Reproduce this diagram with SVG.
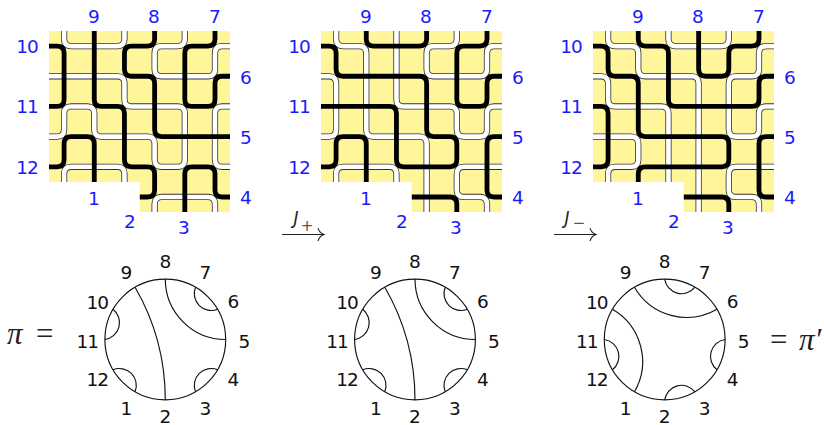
<svg xmlns="http://www.w3.org/2000/svg" width="824" height="425" viewBox="0 0 824 425">
<style>
.bg{fill:#fff59b}
.b{fill:none;stroke:#000;stroke-width:4.8}
.o{fill:none;stroke:#333;stroke-width:6.2}
.w{fill:none;stroke:#fff;stroke-width:4.6}
.c{fill:none;stroke:#111;stroke-width:1.15}
.a{fill:none;stroke:#222;stroke-width:1.15}
text{font-family:"DejaVu Sans",sans-serif;font-size:18.5px;text-anchor:middle}
.n text{fill:#1a1aff}
.k text{fill:#111}
.m{font-family:"Liberation Serif",serif;font-size:31px;fill:#222;text-anchor:start}
.j{font-size:17px;fill:#222;font-style:italic}
.s{font-size:15px;fill:#555}
</style>
<defs>
<path id="bg" d="M0 0H180V180H90V150H0Z"/>
<path id="w1" d="M15 0V8q0 7 7 7H68q7 0 7-7V0M135 0V8q0 7-7 7H112q-7 0-7 7V38q0 7 7 7H158q7 0 7-7V22q0-7 7-7H180M0 45H68q7 0 7 7V68q0 7 7 7H128q7 0 7 7V128q0 7-7 7H112q-7 0-7-7V112q0-7-7-7H52q-7 0-7-7V82q0-7-7-7H22q-7 0-7 7V98q0 7-7 7H0M15 150V142q0-7 7-7H68q7 0 7 7V150M180 75H172q-7 0-7 7V128q0 7 7 7H180M105 180V172q0-7 7-7H158q7 0 7 7V180"/>
<path id="w2" d="M15 0V8q0 7 7 7H38q7 0 7 7V98q0 7 7 7H98q7 0 7 7V180M75 0V68q0 7 7 7H128q7 0 7 7V98q0 7 7 7H158q7 0 7-7V82q0-7 7-7H180M135 0V8q0 7-7 7H112q-7 0-7 7V38q0 7 7 7H158q7 0 7-7V22q0-7 7-7H180M0 45H8q7 0 7 7V98q0 7-7 7H0M15 150V142q0-7 7-7H68q7 0 7 7V150M180 135H142q-7 0-7 7V158q0 7 7 7H158q7 0 7 7V180"/>
<path id="w3" d="M15 0V8q0 7 7 7H38q7 0 7 7V38q0 7 7 7H98q7 0 7 7V180M75 0V8q0 7 7 7H128q7 0 7-7V0M0 45H8q7 0 7 7V68q0 7 7 7H68q7 0 7 7V150M0 105H38q7 0 7 7V128q0 7-7 7H22q-7 0-7 7V150M180 15H172q-7 0-7 7V38q0 7-7 7H142q-7 0-7 7V98q0 7 7 7H158q7 0 7-7V82q0-7 7-7H180M180 135H142q-7 0-7 7V158q0 7 7 7H158q7 0 7 7V180"/>
<clipPath id="cp"><use href="#bg"/></clipPath>
</defs>

<g id="panel-1" transform="translate(49 31) scale(1.006)" clip-path="url(#cp)">
<use href="#bg" class="bg"/><use href="#w1" class="o"/><use href="#w1" class="w"/>
<path class="b" d="M0 15H8q7 0 7 7V68q0 7-7 7H0M45 0V68q0 7 7 7H68q7 0 7 7V128q0 7 7 7H98q7 0 7 7V158q0 7-7 7H90M105 0V8q0 7-7 7H82q-7 0-7 7V38q0 7 7 7H98q7 0 7 7V98q0 7 7 7H180M165 0V8q0 7-7 7H142q-7 0-7 7V68q0 7 7 7H158q7 0 7-7V52q0-7 7-7H180M0 135H8q7 0 7-7V112q0-7 7-7H38q7 0 7 7V150M135 180V142q0-7 7-7H158q7 0 7 7V158q0 7 7 7H180"/>
</g>
<g id="panel-2" transform="translate(321 31) scale(1.006)" clip-path="url(#cp)">
<use href="#bg" class="bg"/><use href="#w2" class="o"/><use href="#w2" class="w"/>
<path class="b" d="M45 0V8q0 7 7 7H98q7 0 7-7V0M0 15H8q7 0 7 7V38q0 7 7 7H98q7 0 7 7V98q0 7 7 7H128q7 0 7 7V128q0 7-7 7H82q-7 0-7-7V82q0-7-7-7H0M165 0V8q0 7-7 7H142q-7 0-7 7V68q0 7 7 7H158q7 0 7-7V52q0-7 7-7H180M0 135H8q7 0 7-7V112q0-7 7-7H38q7 0 7 7V150M180 105H172q-7 0-7 7V158q0 7 7 7H180M90 165H128q7 0 7 7V180"/>
</g>
<g id="panel-3" transform="translate(593 31) scale(1.006)" clip-path="url(#cp)">
<use href="#bg" class="bg"/><use href="#w3" class="o"/><use href="#w3" class="w"/>
<path class="b" d="M0 15H8q7 0 7 7V38q0 7 7 7H38q7 0 7 7V98q0 7 7 7H128q7 0 7 7V128q0 7-7 7H52q-7 0-7 7V150M45 0V8q0 7 7 7H68q7 0 7 7V68q0 7 7 7H158q7 0 7-7V52q0-7 7-7H180M105 0V38q0 7 7 7H128q7 0 7-7V22q0-7 7-7H158q7 0 7-7V0M0 75H8q7 0 7 7V128q0 7-7 7H0M180 105H172q-7 0-7 7V158q0 7 7 7H180M90 165H128q7 0 7 7V180"/>
</g>

<g id="labels-1" class="n">
<text x="94" y="22.600">9</text><text x="154" y="22.600">8</text><text x="215" y="22.600">7</text>
<text x="27" y="52.600" letter-spacing="-1">10</text><text x="27" y="112.600" letter-spacing="-1">11</text><text x="27" y="173.600" letter-spacing="-1">12</text>
<text x="246" y="83.600">6</text><text x="246" y="143.600">5</text><text x="246" y="203.600">4</text>
<text x="94" y="204.600">1</text><text x="130" y="227.600">2</text><text x="184" y="233.600">3</text>
</g>
<g id="labels-2" class="n" transform="translate(272 0)">
<text x="94" y="22.600">9</text><text x="154" y="22.600">8</text><text x="215" y="22.600">7</text>
<text x="27" y="52.600" letter-spacing="-1">10</text><text x="27" y="112.600" letter-spacing="-1">11</text><text x="27" y="173.600" letter-spacing="-1">12</text>
<text x="246" y="83.600">6</text><text x="246" y="143.600">5</text><text x="246" y="203.600">4</text>
<text x="94" y="204.600">1</text><text x="130" y="227.600">2</text><text x="184" y="233.600">3</text>
</g>
<g id="labels-3" class="n" transform="translate(544 0)">
<text x="94" y="22.600">9</text><text x="154" y="22.600">8</text><text x="215" y="22.600">7</text>
<text x="27" y="52.600" letter-spacing="-1">10</text><text x="27" y="112.600" letter-spacing="-1">11</text><text x="27" y="173.600" letter-spacing="-1">12</text>
<text x="246" y="83.600">6</text><text x="246" y="143.600">5</text><text x="246" y="203.600">4</text>
<text x="94" y="204.600">1</text><text x="130" y="227.600">2</text><text x="184" y="233.600">3</text>
</g>

<g id="arrow-plus">
<path class="a" d="M282 234.500H324M318 228q1 4.500 6 6.500q-5 2-6 6.500"/>
<text class="j" x="296" y="224">J</text><text class="s" x="307" y="231">+</text>
</g>
<g id="arrow-minus">
<path class="a" d="M554 234.500H596M590 228q1 4.500 6 6.500q-5 2-6 6.500"/>
<text class="j" x="567" y="224">J</text><text class="s" x="579" y="228">−</text>
</g>

<g id="circle-1" class="k" transform="translate(165.300 339.500)">
<circle class="c" r="60.400"/>
<path class="c" d="M30.200-52.300A17 17 0 0 0 52.300-30.200M0-60.400A60.400 60.400 0 0 0 60.400 0M52.300 30.200A17 17 0 0 0 30.200 52.300M0 60.400A225 225 0 0 0-30.200-52.300M-30.200 52.300A17 17 0 0 0-52.300 30.200M-60.400 0A17 17 0 0 0-52.300-30.200"/>
<text y="-72">8</text><text x="40" y="-61">7</text><text x="68" y="-32">6</text><text x="79" y="8">5</text><text x="68" y="46">4</text><text x="40" y="75">3</text><text y="83">2</text><text x="-39" y="75">1</text><text x="-68" y="46" letter-spacing="-1">12</text><text x="-78" y="8" letter-spacing="-1">11</text><text x="-68" y="-31" letter-spacing="-1">10</text><text x="-39" y="-61">9</text>
</g>
<g id="circle-2" class="k" transform="translate(415 339.500)">
<circle class="c" r="60.400"/>
<path class="c" d="M30.200-52.300A17 17 0 0 0 52.300-30.200M0-60.400A60.400 60.400 0 0 0 60.400 0M52.300 30.200A17 17 0 0 0 30.200 52.300M0 60.400A225 225 0 0 0-30.200-52.300M-30.200 52.300A17 17 0 0 0-52.300 30.200M-60.400 0A17 17 0 0 0-52.300-30.200"/>
<text y="-72">8</text><text x="40" y="-61">7</text><text x="68" y="-32">6</text><text x="79" y="8">5</text><text x="68" y="46">4</text><text x="40" y="75">3</text><text y="83">2</text><text x="-39" y="75">1</text><text x="-68" y="46" letter-spacing="-1">12</text><text x="-78" y="8" letter-spacing="-1">11</text><text x="-68" y="-31" letter-spacing="-1">10</text><text x="-39" y="-61">9</text>
</g>
<g id="circle-3" class="k" transform="translate(664.700 339.500)">
<circle class="c" r="60.400"/>
<path class="c" d="M0-60.400A17 17 0 0 0 30.200-52.300M-30.200-52.300A60.400 60.400 0 0 0 52.300-30.200M60.400 0A17 17 0 0 0 52.300 30.200M30.200 52.300A17 17 0 0 0 0 60.400M-30.200 52.300A60.400 60.400 0 0 0-52.300-30.200M-52.300 30.200A17 17 0 0 0-60.400 0"/>
<text y="-72">8</text><text x="40" y="-61">7</text><text x="68" y="-32">6</text><text x="79" y="8">5</text><text x="68" y="46">4</text><text x="40" y="75">3</text><text y="83">2</text><text x="-39" y="75">1</text><text x="-68" y="46" letter-spacing="-1">12</text><text x="-78" y="8" letter-spacing="-1">11</text><text x="-68" y="-31" letter-spacing="-1">10</text><text x="-39" y="-61">9</text>
</g>

<text class="m" x="7" y="344"><tspan font-style="italic">π</tspan><tspan x="36">=</tspan></text>
<text class="m" x="770" y="350">=<tspan x="799" font-style="italic">π′</tspan></text>
</svg>
